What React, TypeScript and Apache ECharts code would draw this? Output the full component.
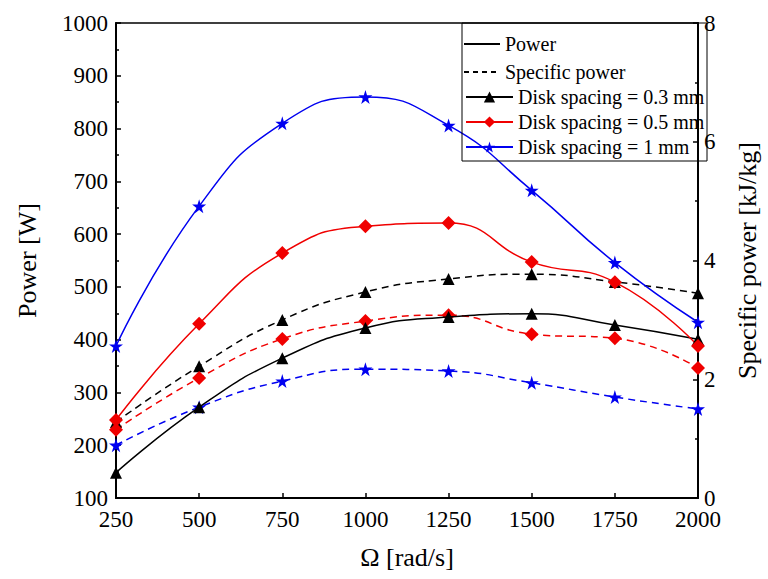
import React, { useEffect, useRef } from "react";
import * as echarts from "echarts";

const omega = [250, 500, 750, 1000, 1250, 1500, 1750, 2000];
const seriesNames = ["Disk spacing = 0.3 mm", "Disk spacing = 0.5 mm", "Disk spacing = 1 mm"];
const power03 = [148, 272, 365, 422, 443, 449, 428, 401];
const power05 = [248, 430, 564, 615, 621, 547, 509, 388];
const power1 = [388, 653, 810, 860, 806, 683, 546, 433];
const spec03 = [1.28, 2.22, 3.0, 3.47, 3.69, 3.77, 3.64, 3.45];
const spec05 = [1.15, 2.02, 2.68, 2.98, 3.08, 2.76, 2.69, 2.19];
const spec1 = [0.89, 1.53, 1.97, 2.17, 2.14, 1.94, 1.7, 1.5];
const leftTicks = { min: 100, max: 1000, interval: 100 };
const rightTicks = { min: 0, max: 8, interval: 2 };

const FONT = "Times New Roman, Liberation Serif, DejaVu Serif, serif";
const BLACK = "#000000";
const RED = "#f00000";
const BLUE = "#0000f0";
const STAR = "path://M50,0 L61,35 L98,35 L68,57 L79,91 L50,70 L21,91 L32,57 L2,35 L39,35 Z";

export default function App() {
  const ref = useRef<HTMLDivElement>(null);
  useEffect(() => {
    if (!ref.current) return;
    const chart = echarts.init(ref.current, null, { renderer: "svg" });
    const pair = (v: number[]) => v.map((y, i) => [omega[i], y]);
    const mk = (
      name: string,
      data: number[],
      color: string,
      symbol: string,
      size: number,
      dashed: boolean,
      yAxisIndex: number
    ) => ({
      type: "line",
      name,
      data: pair(data),
      yAxisIndex,
      smooth: 0.5,
      symbol,
      symbolSize: size,
      lineStyle: { color, width: 1.5, type: dashed ? [7, 5] : "solid" },
      itemStyle: { color },
      z: dashed ? 2 : 3,
    });
    const plain = (v: number) => String(v);
    const option = {
      animation: false,
      backgroundColor: "#ffffff",
      textStyle: { fontFamily: FONT },
      grid: {
        left: 116,
        right: 61,
        top: 23,
        bottom: 81,
        show: true,
        borderColor: BLACK,
        borderWidth: 1.5,
      },
      xAxis: {
        type: "value",
        min: 250,
        max: 2000,
        interval: 250,
        name: "Ω [rad/s]",
        nameLocation: "middle",
        nameGap: 46,
        nameTextStyle: { fontFamily: FONT, fontSize: 26, color: BLACK },
        axisLine: { show: true, lineStyle: { color: BLACK, width: 2 } },
        axisTick: { show: true, inside: true, length: 5, lineStyle: { color: BLACK, width: 1.5 } },
        axisLabel: { fontFamily: FONT, fontSize: 23, color: BLACK, margin: 10, formatter: plain },
        splitLine: { show: false },
      },
      yAxis: [
        {
          type: "value",
          position: "left",
          min: leftTicks.min,
          max: leftTicks.max,
          interval: leftTicks.interval,
          name: "Power [W]",
          nameLocation: "middle",
          nameGap: 76,
          nameTextStyle: { fontFamily: FONT, fontSize: 26, color: BLACK },
          axisLine: { show: true, lineStyle: { color: BLACK, width: 2 } },
          axisTick: { show: true, inside: true, length: 5, lineStyle: { color: BLACK, width: 1.5 } },
          minorTick: { show: true, splitNumber: 2, length: 3, lineStyle: { color: BLACK, width: 1.5 } },
          axisLabel: { fontFamily: FONT, fontSize: 23, color: BLACK, margin: 8, formatter: plain },
          splitLine: { show: false },
        },
        {
          type: "value",
          position: "right",
          min: rightTicks.min,
          max: rightTicks.max,
          interval: rightTicks.interval,
          name: "Specific power [kJ/kg]",
          nameLocation: "middle",
          nameGap: 36,
          nameTextStyle: { fontFamily: FONT, fontSize: 26, color: BLACK },
          axisLine: { show: true, lineStyle: { color: BLACK, width: 2 } },
          axisTick: { show: true, inside: true, length: 5, lineStyle: { color: BLACK, width: 1.5 } },
          minorTick: { show: true, splitNumber: 2, length: 3, lineStyle: { color: BLACK, width: 1.5 } },
          axisLabel: { fontFamily: FONT, fontSize: 23, color: BLACK, margin: 6, formatter: plain },
          splitLine: { show: false },
        },
      ],
      legend: [
        {
          left: 463,
          top: 34,
          orient: "vertical",
          padding: 0,
          itemGap: 8,
          itemWidth: 36,
          itemHeight: 14,
          selectedMode: false,
          textStyle: { fontFamily: FONT, fontSize: 20, color: BLACK },
          data: [
            { name: "Power", itemStyle: { opacity: 0 } },
            { name: "Specific power", itemStyle: { opacity: 0 } },
          ],
        },
        {
          left: 465,
          top: 87,
          orient: "vertical",
          padding: 0,
          itemGap: 5,
          itemWidth: 47,
          itemHeight: 14,
          selectedMode: false,
          textStyle: { fontFamily: FONT, fontSize: 20, color: BLACK },
          data: seriesNames,
        },
      ],
      graphic: [
        {
          type: "rect",
          shape: { x: 462, y: 23, width: 245, height: 138 },
          style: { fill: "none", stroke: BLACK, lineWidth: 1 },
          z: 10,
          silent: true,
        },
      ],
      series: [
        mk(seriesNames[0], power03, BLACK, "triangle", 12, false, 0),
        mk(seriesNames[1], power05, RED, "diamond", 14, false, 0),
        mk(seriesNames[2], power1, BLUE, STAR, 14, false, 0),
        mk(seriesNames[0], spec03, BLACK, "triangle", 12, true, 1),
        mk(seriesNames[1], spec05, RED, "diamond", 14, true, 1),
        mk(seriesNames[2], spec1, BLUE, STAR, 14, true, 1),
        {
          type: "line",
          name: "Power",
          data: [],
          symbol: "none",
          lineStyle: { color: BLACK, width: 1, type: "solid" },
          itemStyle: { color: BLACK },
        },
        {
          type: "line",
          name: "Specific power",
          data: [],
          symbol: "none",
          lineStyle: { color: BLACK, width: 1, type: [5, 4] },
          itemStyle: { color: BLACK },
        },
      ],
    };
    chart.setOption(option as any);
    return () => chart.dispose();
  }, []);
  return (
    <div
      ref={ref}
      style={{ position: "fixed", left: 0, top: 0, width: 768, height: 579 }}
    />
  );
}
